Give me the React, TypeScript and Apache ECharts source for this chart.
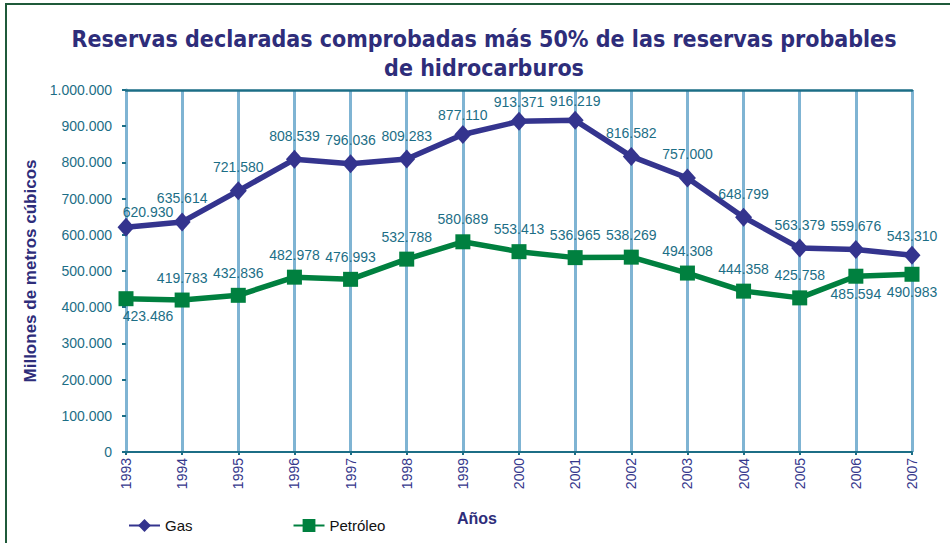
import React, { useEffect, useRef } from "react";
import * as echarts from "echarts";

const years = ["1993","1994","1995","1996","1997","1998","1999","2000","2001","2002","2003","2004","2005","2006","2007"];
const gasValues = [620930, 635614, 721580, 808539, 796036, 809283, 877110, 913371, 916219, 816582, 757000, 648799, 563379, 559676, 543310];
const petroleoValues = [423486, 419783, 432836, 482978, 476993, 532788, 580689, 553413, 536965, 538269, 494308, 444358, 425758, 485594, 490983];
const yTicks = { min: 0, max: 1000000, interval: 100000 };
const petroleoBelow = [0, 13, 14];
const gasCloser = [6, 7, 8, 14];

const fmt = (v: number) => {
  const s = Math.round(v).toString();
  return s.replace(/\B(?=(\d{3})+(?!\d))/g, ".");
};

const NAVY = "#34348e";
const GREEN = "#00803f";
const TEAL = "#1c6e86";
const LIGHT = "#7fb4d3";
const FONT = "'Liberation Sans', Arial, Helvetica, sans-serif";

export default function App() {
  const ref = useRef<HTMLDivElement>(null);
  useEffect(() => {
    if (!ref.current) return;
    const chart = echarts.init(ref.current, null, { renderer: "svg" });
    const labelBase = { show: true, color: TEAL, fontSize: 14, fontFamily: FONT, formatter: (p: any) => fmt(p.value) };
    const gasData = gasValues.map((v, i) => ({
      value: v,
      label: i === 0 ? { offset: [22, 8] } : gasCloser.includes(i) ? { offset: [0, 4] } : undefined,
    }));
    const petData = petroleoValues.map((v, i) => {
      const below = petroleoBelow.includes(i);
      const lab: any = {};
      if (below) { lab.position = "bottom"; lab.distance = 3; }
      if (i === 0) lab.offset = [22, 0];
      return { value: v, label: lab };
    });
    chart.setOption({
      animation: false,
      backgroundColor: "#ffffff",
      title: {
        text: "Reservas declaradas comprobadas más 50% de las reservas probables\nde hidrocarburos",
        left: 479,
        top: 19,
        textAlign: "center",
        textStyle: { fontFamily: "'DejaVu Sans Condensed', sans-serif", fontWeight: "bold", fontSize: 23, color: "#2e2d7a", lineHeight: 29 },
      },
      legend: {
        left: 123,
        top: 513,
        itemWidth: 31,
        itemHeight: 16,
        itemGap: 100,
        textStyle: { fontFamily: FONT, fontSize: 15, color: "#111" },
        data: ["Gas", "Petróleo"],
      },
      grid: { left: 126, right: 38, top: 90, bottom: 91 },
      xAxis: [
        {
          type: "category",
          data: years,
          boundaryGap: false,
          axisLine: { lineStyle: { color: TEAL, width: 2 } },
          axisTick: { show: true, length: 3, lineStyle: { color: TEAL, width: 2 } },
          axisLabel: { rotate: 90, color: "#35388c", fontSize: 14, fontFamily: FONT, margin: 6 },
          splitLine: { show: true, lineStyle: { color: LIGHT, width: 3 } },
        },
        {
          type: "category",
          data: years,
          position: "top",
          boundaryGap: false,
          axisLine: { lineStyle: { color: TEAL, width: 2.5 } },
          axisTick: { show: false },
          axisLabel: { show: false },
          splitLine: { show: false },
        },
      ],
      yAxis: {
        type: "value",
        min: yTicks.min,
        max: yTicks.max,
        interval: yTicks.interval,
        name: "Millones de metros cúbicos",
        nameLocation: "middle",
        nameRotate: 90,
        nameGap: 74,
        nameTextStyle: { fontFamily: FONT, fontWeight: "bold", fontSize: 17, color: "#2e2d7a" },
        axisLine: { show: true, lineStyle: { color: LIGHT, width: 3 } },
        axisTick: { show: true, length: 4, lineStyle: { color: TEAL, width: 2 } },
        axisLabel: { color: TEAL, fontSize: 14, fontFamily: FONT, margin: 14, formatter: (v: number) => fmt(v) },
        splitLine: { show: false },
      },
      graphic: [
        { type: "rect", shape: { x: 6, y: 4, width: 1000, height: 600 }, style: { fill: "none", stroke: "#1f5a3a", lineWidth: 2 }, z: 100 },
        { type: "text", left: 457, top: 510, style: { text: "Años", fontFamily: FONT, fontWeight: "bold", fontSize: 16, fill: "#2e2d7a" } },
      ],
      series: [
        {
          name: "Gas",
          type: "line",
          data: gasData,
          symbol: "diamond",
          symbolSize: [17, 19],
          itemStyle: { color: NAVY },
          lineStyle: { color: NAVY, width: 5.5 },
          label: { ...labelBase, position: "top", distance: 7 },
          z: 3,
        },
        {
          name: "Petróleo",
          type: "line",
          data: petData,
          symbol: "rect",
          symbolSize: 15,
          itemStyle: { color: GREEN },
          lineStyle: { color: GREEN, width: 5.5 },
          label: { ...labelBase, position: "top", distance: 8 },
          z: 3,
        },
      ],
    });
    return () => chart.dispose();
  }, []);
  return <div ref={ref} style={{ position: "absolute", left: 0, top: 0, width: 950, height: 543 }} />;
}
